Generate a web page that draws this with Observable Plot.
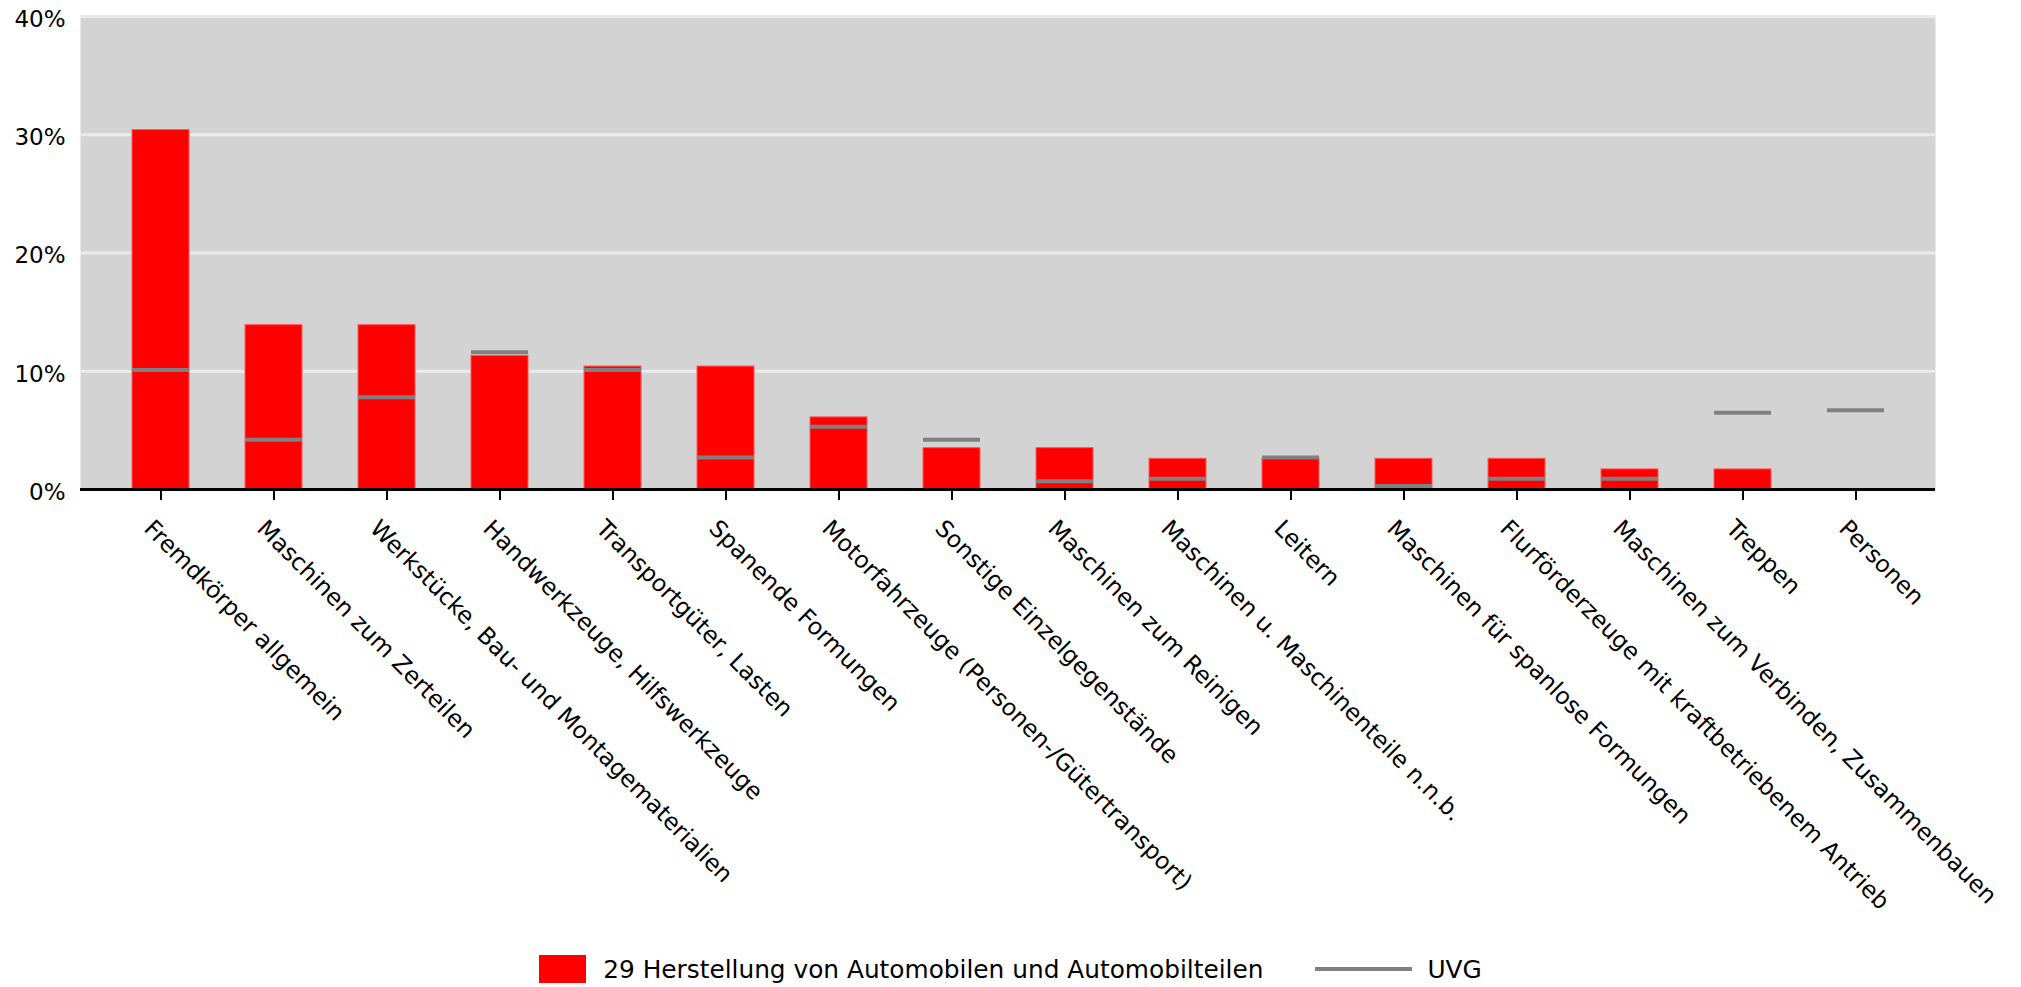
<!DOCTYPE html>
<html>
<head>
<meta charset="utf-8">
<script src="https://cdn.jsdelivr.net/npm/d3@7"></script>
<script src="https://cdn.jsdelivr.net/npm/@observablehq/plot@0.6"></script>
<style>
  html, body { margin: 0; padding: 0; background: #fff; }
  body { width: 2021px; height: 987px; position: relative; overflow: hidden; font-family: "DejaVu Sans", Verdana, sans-serif; }
  #legend { position: absolute; left: 0; top: 954px; width: 2021px; height: 30px; display: flex; justify-content: center; align-items: center; font-size: 24.8px; color: #000; }
  .sw { display: inline-block; width: 47px; height: 28px; background: #ff0000; margin-right: 17px; }
  .ln { display: inline-block; width: 97px; height: 4px; background: #808080; margin-left: 52px; margin-right: 15px; }
</style>
</head>
<body>
<div id="chart"></div>
<div id="legend"></div>
<script>
const categories = [
  "Fremdkörper allgemein",
  "Maschinen zum Zerteilen",
  "Werkstücke, Bau- und Montagematerialien",
  "Handwerkzeuge, Hilfswerkzeuge",
  "Transportgüter, Lasten",
  "Spanende Formungen",
  "Motorfahrzeuge (Personen-/Gütertransport)",
  "Sonstige Einzelgegenstände",
  "Maschinen zum Reinigen",
  "Maschinen u. Maschinenteile n.n.b.",
  "Leitern",
  "Maschinen für spanlose Formungen",
  "Flurförderzeuge mit kraftbetriebenem Antrieb",
  "Maschinen zum Verbinden, Zusammenbauen",
  "Treppen",
  "Personen"
];
const automobil = [30.4, 13.9, 13.9, 11.3, 10.4, 10.4, 6.1, 3.5, 3.5, 2.6, 2.6, 2.6, 2.6, 1.7, 1.7, 0];
const uvg = [10.1, 4.2, 7.8, 11.6, 10.1, 2.7, 5.3, 4.2, 0.7, 0.9, 2.7, 0.3, 0.9, 0.9, 6.5, 6.7];
const yTicks = [0, 10, 20, 30, 40];
const seriesNames = ["29 Herstellung von Automobilen und Automobilteilen", "UVG"];

const data = categories.map((c, i) => ({cat: c, a: automobil[i], u: uvg[i]}));

const chart = Plot.plot({
  width: 2021,
  height: 940,
  marginLeft: 80,
  marginRight: 86,
  marginTop: 16,
  marginBottom: 451,
  style: {fontFamily: "DejaVu Sans, Verdana, sans-serif", fontSize: "23px", background: "transparent", overflow: "visible"},
  x: {domain: categories, paddingInner: 0.5, paddingOuter: 0.386},
  y: {domain: [0, 40]},
  marks: [
    Plot.frame({fill: "#d3d3d3", stroke: null}),
    Plot.gridY(yTicks.filter(d => d > 0), {stroke: "#ebebeb", strokeOpacity: 1, strokeWidth: 3}),
    Plot.barY(data, {x: "cat", y: "a", fill: "#ff0000", stroke: "#ff5a5a", strokeWidth: 1}),
    Plot.tickY(data, {x: "cat", y: "u", stroke: "#808080", strokeWidth: 4}),
    Plot.ruleY([0], {stroke: "#000", strokeWidth: 3}),
    Plot.axisY({ticks: yTicks, tickSize: 0, tickPadding: 15, tickFormat: d => d + "%", fontSize: 23, dy: 3, label: null}),
    Plot.axisX({tickSize: 11, stroke: "#000", strokeWidth: 2, tickFormat: () => "", label: null}),
    Plot.axisX({tickSize: 0, tickRotate: 45, fontSize: 23.5, tickPadding: 35, dx: -13, label: null})
  ]
});
document.getElementById("chart").appendChild(chart);

const lg = document.getElementById("legend");
lg.innerHTML = `<span class="sw"></span><span>${seriesNames[0]}</span><span class="ln"></span><span>${seriesNames[1]}</span>`;
</script>
</body>
</html>
